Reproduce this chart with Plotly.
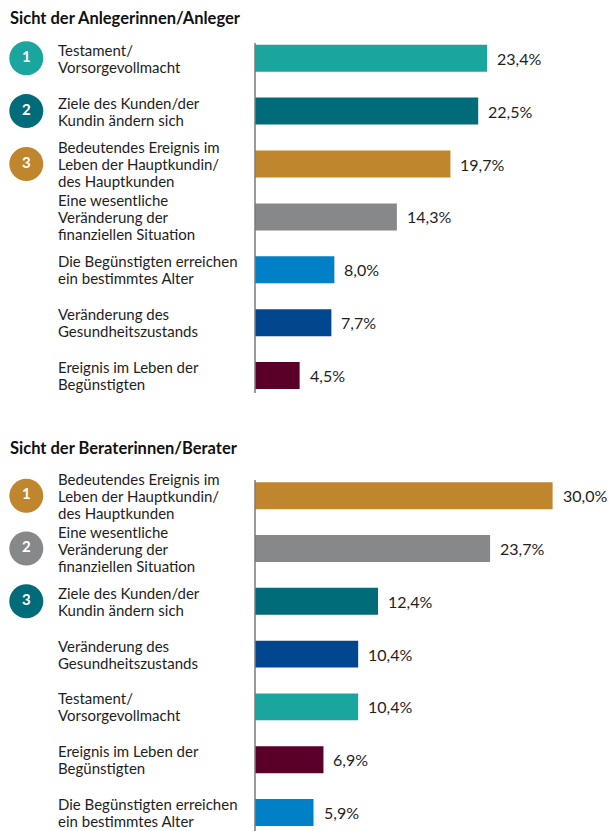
import plotly.graph_objects as go

# ---------------- data ----------------
top_title = "Sicht der Anlegerinnen/Anleger"
top_labels = [
    "Testament/<br>Vorsorgevollmacht",
    "Ziele des Kunden/der<br>Kundin ändern sich",
    "Bedeutendes Ereignis im<br>Leben der Hauptkundin/<br>des Hauptkunden",
    "Eine wesentliche<br>Veränderung der<br>finanziellen Situation",
    "Die Begünstigten erreichen<br>ein bestimmtes Alter",
    "Veränderung des<br>Gesundheitszustands",
    "Ereignis im Leben der<br>Begünstigten",
]
top_values = [23.4, 22.5, 19.7, 14.3, 8.0, 7.7, 4.5]

bottom_title = "Sicht der Beraterinnen/Berater"
bottom_labels = [
    "Bedeutendes Ereignis im<br>Leben der Hauptkundin/<br>des Hauptkunden",
    "Eine wesentliche<br>Veränderung der<br>finanziellen Situation",
    "Ziele des Kunden/der<br>Kundin ändern sich",
    "Veränderung des<br>Gesundheitszustands",
    "Testament/<br>Vorsorgevollmacht",
    "Ereignis im Leben der<br>Begünstigten",
    "Die Begünstigten erreichen<br>ein bestimmtes Alter",
]
bottom_values = [30.0, 23.7, 12.4, 10.4, 10.4, 6.9, 5.9]

rank_labels = ["1", "2", "3"]

category_colors = {
    "Testament/<br>Vorsorgevollmacht": "#1aa59e",
    "Ziele des Kunden/der<br>Kundin ändern sich": "#006c7a",
    "Bedeutendes Ereignis im<br>Leben der Hauptkundin/<br>des Hauptkunden": "#c0862e",
    "Eine wesentliche<br>Veränderung der<br>finanziellen Situation": "#87888a",
    "Die Begünstigten erreichen<br>ein bestimmtes Alter": "#0080c6",
    "Veränderung des<br>Gesundheitszustands": "#00478f",
    "Ereignis im Leben der<br>Begünstigten": "#5a0028",
}

# ---------------- layout constants ----------------
W, H = 610, 831
FONT = "Lato"
TEXT_COLOR = "#1e1e1e"
PX_PER_UNIT = 9.92
AXIS_PX = 255.0
x_range = [-AXIS_PX / PX_PER_UNIT, (W - AXIS_PX) / PX_PER_UNIT]
CIRCLE_X = (26.3 - AXIS_PX) / PX_PER_UNIT
LABEL_X = (56 - AXIS_PX) / PX_PER_UNIT
LINE_H = 17

panels = [
    dict(title=top_title, labels=top_labels, values=top_values,
         title_px=18, top_px=43, bot_px=393, c0=58.2, pitch=52.9,
         xa="x", ya="y"),
    dict(title=bottom_title, labels=bottom_labels, values=bottom_values,
         title_px=448, top_px=480, bot_px=831, c0=495.7, pitch=52.8,
         xa="x2", ya="y2"),
]

fig = go.Figure()
annotations = []
shapes = []

for k, p in enumerate(panels):
    n = len(p["values"])
    idx = list(range(n))
    colors = [category_colors[l] for l in p["labels"]]
    fig.add_trace(go.Bar(
        x=p["values"], y=idx, orientation="h",
        marker=dict(color=colors, line=dict(width=0)),
        width=0.51, xaxis=p["xa"], yaxis=p["ya"],
        hoverinfo="skip", showlegend=False,
    ))
    # rank circles
    fig.add_trace(go.Scatter(
        x=[CIRCLE_X] * len(rank_labels), y=idx[:len(rank_labels)],
        mode="markers+text", text=rank_labels, textposition="middle center",
        textfont=dict(family=FONT, size=15, color="white", weight="bold"),
        marker=dict(size=34, color=colors[:len(rank_labels)], line=dict(width=0)),
        xaxis=p["xa"], yaxis=p["ya"], hoverinfo="skip", showlegend=False,
        cliponaxis=False,
    ))
    xref = p["xa"]
    yref = p["ya"]
    # category labels, line by line
    for i, lab in enumerate(p["labels"]):
        lines = lab.split("<br>")
        m = len(lines)
        for j, line in enumerate(lines):
            annotations.append(dict(
                x=LABEL_X, y=i, xref=xref, yref=yref, text=line,
                xanchor="left", yanchor="middle", showarrow=False,
                yshift=((m - 1) / 2 - j) * LINE_H,
                font=dict(family=FONT, size=15, color=TEXT_COLOR),
            ))
    # value labels
    for i, v in enumerate(p["values"]):
        annotations.append(dict(
            x=v, y=i, xref=xref, yref=yref,
            text=f"{v:.1f}".replace(".", ",") + "%",
            xanchor="left", yanchor="middle", showarrow=False, xshift=8,
            font=dict(family=FONT, size=16, color=TEXT_COLOR),
        ))
    # title
    annotations.append(dict(
        x=10 / W, y=1 - p["title_px"] / H, xref="paper", yref="paper",
        text="<b>" + p["title"] + "</b>", xanchor="left", yanchor="middle",
        showarrow=False, font=dict(family=FONT, size=16.5, color="#111111"),
        xshift=-2,
    ))
    # axis line
    shapes.append(dict(
        type="line", xref=xref, yref=yref + " domain", x0=0, x1=0, y0=0, y1=1,
        line=dict(color="#7a7a7a", width=1.5), layer="above",
    ))
    # y range
    y_top = (p["top_px"] - p["c0"]) / p["pitch"]
    y_bot = (p["bot_px"] - p["c0"]) / p["pitch"]
    ax = dict(domain=[1 - p["bot_px"] / H, 1 - p["top_px"] / H],
              range=[y_bot, y_top], showticklabels=False, showgrid=False,
              zeroline=False, showline=False, fixedrange=True)
    xax = dict(domain=[0, 1], range=x_range, showticklabels=False,
               showgrid=False, zeroline=False, showline=False, fixedrange=True)
    if k == 0:
        fig.update_layout(yaxis=dict(ax, anchor="x"), xaxis=dict(xax, anchor="y"))
    else:
        fig.update_layout(yaxis2=dict(ax, anchor="x2"), xaxis2=dict(xax, anchor="y2"))

fig.update_layout(
    width=W, height=H,
    margin=dict(l=0, r=0, t=0, b=0),
    paper_bgcolor="white", plot_bgcolor="white",
    annotations=annotations, shapes=shapes,
    font=dict(family=FONT),
    showlegend=False,
)

fig.write_html(
    "out.html",
    config={"displayModeBar": False},
    post_script="document.body.style.margin='0';document.body.style.overflow='hidden';",
)
